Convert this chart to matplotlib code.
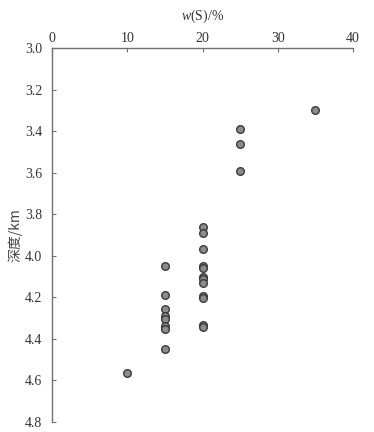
import matplotlib
matplotlib.use("Agg")
import matplotlib.pyplot as plt

sulfur = [35, 25, 25, 25,
          20, 20, 20, 20, 20, 20, 20, 20, 20, 20, 20, 20,
          15, 15, 15, 15, 15, 15, 15, 15,
          10]
depth = [3.30, 3.39, 3.46, 3.59,
         3.86, 3.89, 3.965, 4.05, 4.06, 4.10, 4.11, 4.13, 4.195, 4.205, 4.335, 4.345,
         4.05, 4.19, 4.255, 4.29, 4.305, 4.34, 4.35, 4.45,
         4.565]
xticks = [0, 10, 20, 30, 40]
yticks = [3.0, 3.2, 3.4, 3.6, 3.8, 4.0, 4.2, 4.4, 4.6, 4.8]

serif = ['Liberation Serif', 'DejaVu Serif']
plt.rcParams['font.family'] = serif
plt.rcParams['mathtext.fontset'] = 'custom'
plt.rcParams['mathtext.it'] = 'Liberation Serif:italic'
plt.rcParams['mathtext.rm'] = 'Liberation Serif'

fig = plt.figure(figsize=(3.74, 4.32), dpi=100)
ax = fig.add_axes([52/374, 1-422/432, (353-52)/374, (422-48)/432])

ax.scatter(sulfur, depth, s=30, facecolor='#8c8c8c', edgecolor='#3a3a3a', linewidth=1.0, zorder=3)

ax.set_xlim(0, 40)
ax.set_ylim(4.8, 3.0)
ax.set_xticks(xticks)
ax.set_yticks(yticks)
ax.set_yticklabels([f"{v:.1f}" for v in yticks])
ax.xaxis.tick_top()
ax.xaxis.set_label_position('top')
for s in ['right', 'bottom']:
    ax.spines[s].set_visible(False)
for s in ['left', 'top']:
    ax.spines[s].set_color('#707070')
    ax.spines[s].set_linewidth(1.0)
ax.tick_params(axis='both', direction='in', length=3, color='#707070', labelsize=10, labelcolor='#333333')
ax.tick_params(axis='x', pad=2)
ax.tick_params(axis='y', pad=7)

ax.set_xlabel(r'$w$(S)/%', fontsize=10, color='#333333', labelpad=9)
ax.set_ylabel('深度/km', fontsize=10, color='#444444', family=['Noto Sans CJK SC', 'DejaVu Sans'], labelpad=2)

fig.savefig('out.png', dpi=100)
